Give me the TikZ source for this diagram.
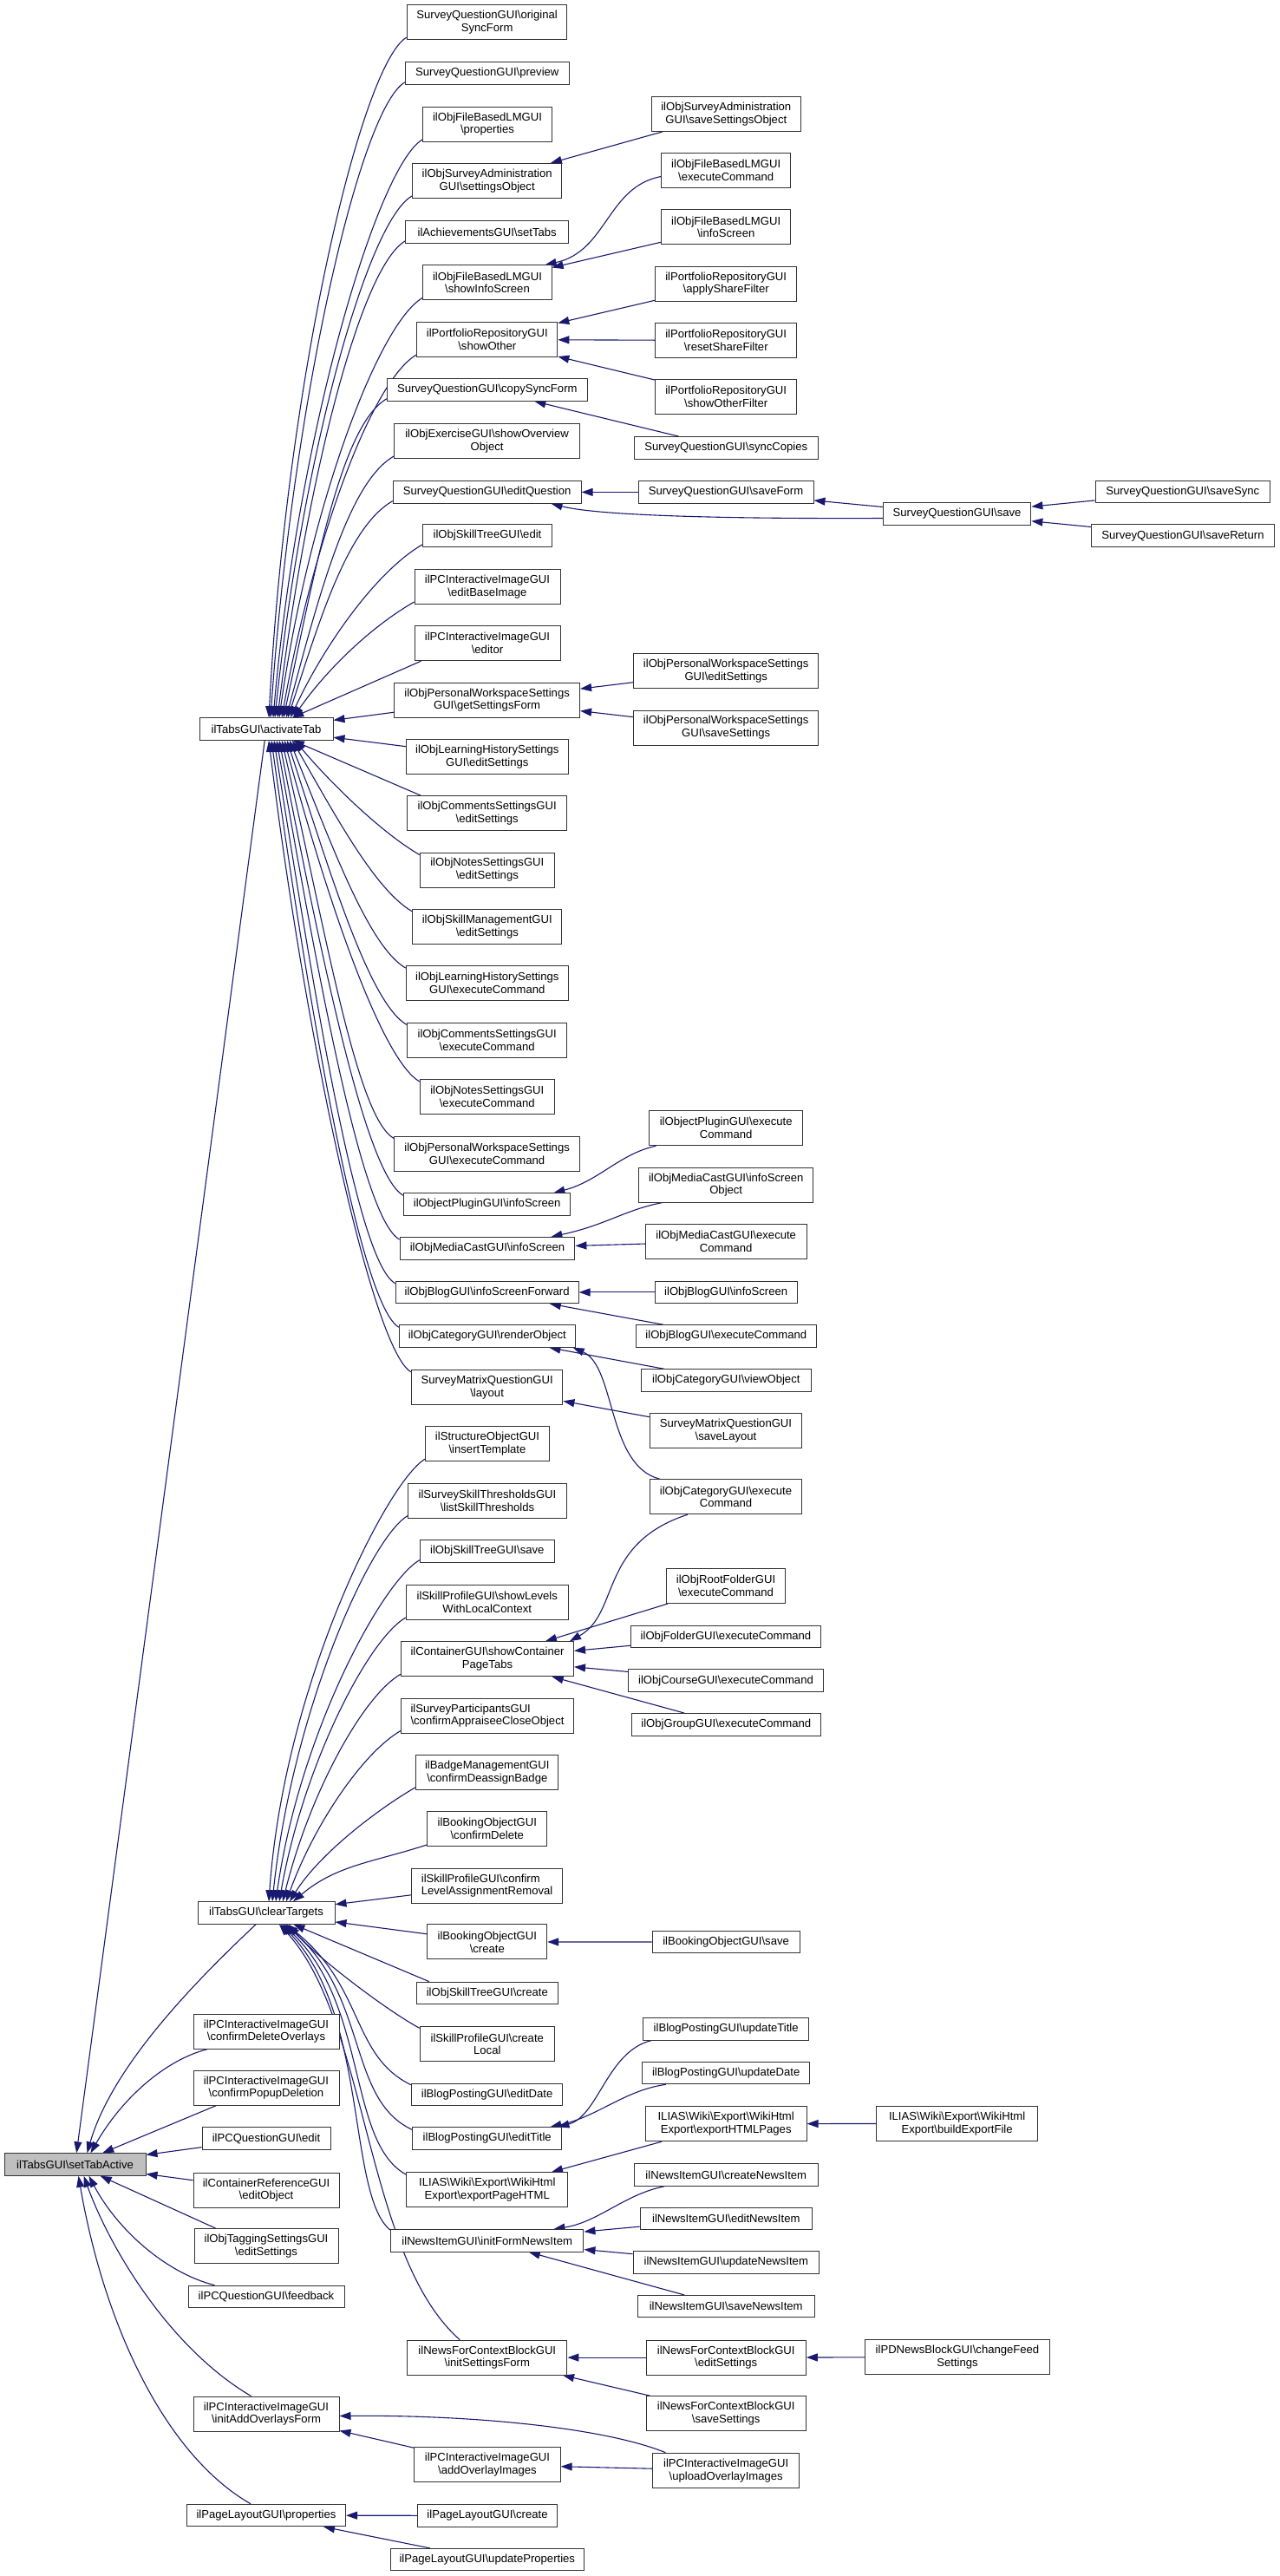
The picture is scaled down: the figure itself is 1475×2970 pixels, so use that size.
\documentclass[tikz,border=0pt]{standalone}
\usepackage{fontspec}
\setmainfont{Liberation Sans}
\usetikzlibrary{arrows.meta,backgrounds}
\definecolor{edgeblue}{HTML}{191970}
\newcommand{\bsl}{\textbackslash}
\tikzset{
  box/.style={draw=black!80, line width=1pt, fill=white, inner sep=0pt, align=center,
    font=\fontsize{13.1pt}{14.8pt}\selectfont, text=black},
  rootbox/.style={box, fill=black!25},
  bw/.style={minimum width=#1},
  h1/.style={minimum height=25.5pt},
  h2/.style={minimum height=40pt},
  edge/.style={draw=edgeblue, line width=1.1pt, {Triangle[length=13pt,width=9pt]}-}
}
\begin{document}
\begin{tikzpicture}[x=1pt,y=1pt]
\useasboundingbox (0,0) rectangle (1475,-2970);
% ---- column 0 / 1
\node[rootbox, bw=163pt, h1] (root) at (86.5,-2495.5) {ilTabsGUI\bsl setTabActive};
\node[box, bw=154pt, h1] (act) at (307,-840.5) {ilTabsGUI\bsl activateTab};
\node[box, bw=158pt, h1] (ct) at (307,-2205.5) {ilTabsGUI\bsl clearTargets};
\node[box, bw=168pt, h2] (cdo) at (307,-2342) {ilPCInteractiveImageGUI\\\bsl confirmDeleteOverlays};
\node[box, bw=168pt, h2] (cpd) at (307,-2407) {ilPCInteractiveImageGUI\\\bsl confirmPopupDeletion};
\node[box, bw=148pt, h1] (pqe) at (307,-2465.5) {ilPCQuestionGUI\bsl edit};
\node[box, bw=168pt, h2] (creo) at (307,-2525) {ilContainerReferenceGUI\\\bsl editObject};
\node[box, bw=166pt, h2] (tag) at (307,-2589.5) {ilObjTaggingSettingsGUI\\\bsl editSettings};
\node[box, bw=180pt, h1] (pqf) at (307,-2648) {ilPCQuestionGUI\bsl feedback};
\node[box, bw=168pt, h2] (iao) at (307,-2783) {ilPCInteractiveImageGUI\\\bsl initAddOverlaysForm};
\node[box, bw=183pt, h1] (plp) at (307,-2900) {ilPageLayoutGUI\bsl properties};
% ---- column 2
\node[box, bw=184.6pt, h2] (osf) at (561.6,-25.7) {SurveyQuestionGUI\bsl original\\SyncForm};
\node[box, bw=188.6pt, h1] (prv) at (561.8,-84.5) {SurveyQuestionGUI\bsl preview};
\node[box, bw=148.2pt, h2] (fprop) at (562,-143.2) {ilObjFileBasedLMGUI\\\bsl properties};
\node[box, bw=172.5pt, h2] (sobj) at (561.7,-208.5) {ilObjSurveyAdministration\\GUI\bsl settingsObject};
\node[box, bw=187.5pt, h1] (stabs) at (561.7,-267.5) {ilAchievementsGUI\bsl setTabs};
\node[box, bw=148.2pt, h2] (sis) at (562,-325.8) {ilObjFileBasedLMGUI\\\bsl showInfoScreen};
\node[box, bw=162pt, h2] (sot) at (561.8,-391.5) {ilPortfolioRepositoryGUI\\\bsl showOther};
\node[box, bw=230.7pt, h1] (csf) at (561.8,-449.5) {SurveyQuestionGUI\bsl copySyncForm};
\node[box, bw=214pt, h2] (sov) at (561.6,-508.5) {ilObjExerciseGUI\bsl showOverview\\Object};
\node[box, bw=216.8pt, h1] (eq) at (561.6,-567.4) {SurveyQuestionGUI\bsl editQuestion};
\node[box, bw=148.5pt, h1] (ste) at (562,-617.5) {ilObjSkillTreeGUI\bsl edit};
\node[box, bw=168pt, h2] (ebi) at (562,-676.5) {ilPCInteractiveImageGUI\\\bsl editBaseImage};
\node[box, bw=168pt, h2] (edr) at (562,-741.7) {ilPCInteractiveImageGUI\\\bsl editor};
\node[box, bw=214pt, h2] (gsf) at (561.6,-807.2) {ilObjPersonalWorkspaceSettings\\GUI\bsl getSettingsForm};
\node[box, bw=187pt, h2] (lhes) at (561.8,-872.4) {ilObjLearningHistorySettings\\GUI\bsl editSettings};
\node[box, bw=184.3pt, h2] (ces) at (561.7,-937.6) {ilObjCommentsSettingsGUI\\\bsl editSettings};
\node[box, bw=155pt, h2] (nes) at (561.8,-1003) {ilObjNotesSettingsGUI\\\bsl editSettings};
\node[box, bw=172.2pt, h2] (smes) at (561.8,-1068.3) {ilObjSkillManagementGUI\\\bsl editSettings};
\node[box, bw=187pt, h2] (lhec) at (561.8,-1133.6) {ilObjLearningHistorySettings\\GUI\bsl executeCommand};
\node[box, bw=184.3pt, h2] (cec) at (561.7,-1199) {ilObjCommentsSettingsGUI\\\bsl executeCommand};
\node[box, bw=155pt, h2] (nec) at (561.8,-1264.5) {ilObjNotesSettingsGUI\\\bsl executeCommand};
\node[box, bw=214pt, h2] (pwec) at (561.6,-1330) {ilObjPersonalWorkspaceSettings\\GUI\bsl executeCommand};
\node[box, bw=192.5pt, h1] (opis) at (561.7,-1388.5) {ilObjectPluginGUI\bsl infoScreen};
\node[box, bw=201.8pt, h1] (mcis) at (562,-1439.3) {ilObjMediaCastGUI\bsl infoScreen};
\node[box, bw=211pt, h1] (bisf) at (561.6,-1489.9) {ilObjBlogGUI\bsl infoScreenForward};
\node[box, bw=202.8pt, h1] (cro) at (561.8,-1540.5) {ilObjCategoryGUI\bsl renderObject};
\node[box, bw=174.6pt, h2] (sml) at (561.6,-1599.2) {SurveyMatrixQuestionGUI\\\bsl layout};
\node[box, bw=142.5pt, h2] (sit) at (562,-1664.6) {ilStructureObjectGUI\\\bsl insertTemplate};
\node[box, bw=182.5pt, h2] (lst) at (562,-1730) {ilSurveySkillThresholdsGUI\\\bsl listSkillThresholds};
\node[box, bw=155pt, h1] (sts) at (561.8,-1788.4) {ilObjSkillTreeGUI\bsl save};
\node[box, bw=187pt, h2] (slw) at (561.8,-1847.5) {ilSkillProfileGUI\bsl showLevels\\WithLocalContext};
\node[box, bw=199pt, h2] (scp) at (562,-1912.7) {ilContainerGUI\bsl showContainer\\PageTabs};
\node[box, bw=199pt, h2, align=left] (cac) at (562,-1978) {ilSurveyParticipantsGUI\\\bsl confirmAppraiseeCloseObject};
\node[box, bw=164.3pt, h2] (cdb) at (561.8,-2043.2) {ilBadgeManagementGUI\\\bsl confirmDeassignBadge};
\node[box, bw=137.8pt, h2] (bcd) at (561.8,-2108.4) {ilBookingObjectGUI\\\bsl confirmDelete};
\node[box, bw=174.6pt, h2, align=left] (clar) at (561.6,-2174) {ilSkillProfileGUI\bsl confirm\\LevelAssignmentRemoval};
\node[box, bw=137.8pt, h2] (bcr) at (561.8,-2238.9) {ilBookingObjectGUI\\\bsl create};
\node[box, bw=162.8pt, h1] (stc) at (561.8,-2297.9) {ilObjSkillTreeGUI\bsl create};
\node[box, bw=155pt, h2] (scl) at (561.8,-2356.8) {ilSkillProfileGUI\bsl create\\Local};
\node[box, bw=174.6pt, h1] (bed) at (561.6,-2414.9) {ilBlogPostingGUI\bsl editDate};
\node[box, bw=172.5pt, h1] (bet) at (561.7,-2465.5) {ilBlogPostingGUI\bsl editTitle};
\node[box, bw=185.7pt, h2] (eph) at (561.8,-2524.7) {ILIAS\bsl Wiki\bsl Export\bsl WikiHtml\\Export\bsl exportPageHTML};
\node[box, bw=222.5pt, h1] (ifn) at (561.7,-2583.3) {ilNewsItemGUI\bsl initFormNewsItem};
\node[box, bw=184.3pt, h2] (isf) at (561.8,-2718.1) {ilNewsForContextBlockGUI\\\bsl initSettingsForm};
\node[box, bw=168.2pt, h2] (aoi) at (562,-2841.7) {ilPCInteractiveImageGUI\\\bsl addOverlayImages};
\node[box, bw=161pt, h1] (plc) at (562,-2900.4) {ilPageLayoutGUI\bsl create};
\node[box, bw=222.8pt, h1] (plu) at (561.8,-2951.1) {ilPageLayoutGUI\bsl updateProperties};
% ---- column 3
\node[box, bw=171.8pt, h2] (sso) at (837.3,-131.3) {ilObjSurveyAdministration\\GUI\bsl saveSettingsObject};
\node[box, bw=148.5pt, h2] (fec) at (837.2,-196.5) {ilObjFileBasedLMGUI\\\bsl executeCommand};
\node[box, bw=148.5pt, h2] (fis) at (837.2,-261.8) {ilObjFileBasedLMGUI\\\bsl infoScreen};
\node[box, bw=163pt, h2] (asf) at (837.2,-327.2) {ilPortfolioRepositoryGUI\\\bsl applyShareFilter};
\node[box, bw=163pt, h2] (rsf) at (837.2,-392.5) {ilPortfolioRepositoryGUI\\\bsl resetShareFilter};
\node[box, bw=163pt, h2] (sof) at (837.2,-457.7) {ilPortfolioRepositoryGUI\\\bsl showOtherFilter};
\node[box, bw=211.8pt, h1] (syc) at (837.3,-516.4) {SurveyQuestionGUI\bsl syncCopies};
\node[box, bw=202pt, h1] (sfm) at (837,-567.4) {SurveyQuestionGUI\bsl saveForm};
\node[box, bw=213.5pt, h2] (pwe) at (837.2,-773.8) {ilObjPersonalWorkspaceSettings\\GUI\bsl editSettings};
\node[box, bw=213.5pt, h2] (pws) at (837.2,-839) {ilObjPersonalWorkspaceSettings\\GUI\bsl saveSettings};
\node[box, bw=176.5pt, h2] (opec) at (837.2,-1300.7) {ilObjectPluginGUI\bsl execute\\Command};
\node[box, bw=201.5pt, h2] (mciso) at (837.2,-1366) {ilObjMediaCastGUI\bsl infoScreen\\Object};
\node[box, bw=185.7pt, h2] (mcec) at (837.2,-1431.3) {ilObjMediaCastGUI\bsl execute\\Command};
\node[box, bw=164.3pt, h1] (bis) at (837.2,-1489.9) {ilObjBlogGUI\bsl infoScreen};
\node[box, bw=208.2pt, h1] (bec) at (837.3,-1540.5) {ilObjBlogGUI\bsl executeCommand};
\node[box, bw=195.4pt, h1] (cvo) at (837.3,-1591.5) {ilObjCategoryGUI\bsl viewObject};
\node[box, bw=175.3pt, h2] (smsl) at (837,-1649.8) {SurveyMatrixQuestionGUI\\\bsl saveLayout};
\node[box, bw=175.3pt, h2] (cec2) at (837,-1725.7) {ilObjCategoryGUI\bsl execute\\Command};
\node[box, bw=136.1pt, h2] (rfec) at (837,-1828.5) {ilObjRootFolderGUI\\\bsl executeCommand};
\node[box, bw=218.9pt, h1] (fdec) at (837,-1887) {ilObjFolderGUI\bsl executeCommand};
\node[box, bw=224.7pt, h1] (crec) at (837,-1937.7) {ilObjCourseGUI\bsl executeCommand};
\node[box, bw=218.2pt, h1] (grec) at (837.3,-1988.3) {ilObjGroupGUI\bsl executeCommand};
\node[box, bw=170pt, h1] (bsv) at (837.1,-2239) {ilBookingObjectGUI\bsl save};
\node[box, bw=191.5pt, h1] (but) at (837.2,-2339.4) {ilBlogPostingGUI\bsl updateTitle};
\node[box, bw=193.5pt, h1] (bud) at (837.2,-2390) {ilBlogPostingGUI\bsl updateDate};
\node[box, bw=185.7pt, h2] (ehp) at (837.2,-2448.7) {ILIAS\bsl Wiki\bsl Export\bsl WikiHtml\\Export\bsl exportHTMLPages};
\node[box, bw=211.8pt, h1] (cni) at (837.3,-2507.5) {ilNewsItemGUI\bsl createNewsItem};
\node[box, bw=198.2pt, h1] (eni) at (837.3,-2558) {ilNewsItemGUI\bsl editNewsItem};
\node[box, bw=214.6pt, h1] (uni) at (837.3,-2608.5) {ilNewsItemGUI\bsl updateNewsItem};
\node[box, bw=204.3pt, h1] (sni) at (837.2,-2659.2) {ilNewsItemGUI\bsl saveNewsItem};
\node[box, bw=184.3pt, h2] (nfe) at (837.2,-2718.1) {ilNewsForContextBlockGUI\\\bsl editSettings};
\node[box, bw=184.3pt, h2] (nfs) at (837.2,-2782.8) {ilNewsForContextBlockGUI\\\bsl saveSettings};
\node[box, bw=168.5pt, h2] (uoi) at (837.2,-2848.2) {ilPCInteractiveImageGUI\\\bsl uploadOverlayImages};
% ---- column 4 / 5
\node[box, bw=170.5pt, h1] (save) at (1103.6,-592.5) {SurveyQuestionGUI\bsl save};
\node[box, bw=186.3pt, h2] (bef) at (1103.6,-2448.3) {ILIAS\bsl Wiki\bsl Export\bsl WikiHtml\\Export\bsl buildExportFile};
\node[box, bw=213.4pt, h2] (cfs) at (1104,-2717.7) {ilPDNewsBlockGUI\bsl changeFeed\\Settings};
\node[box, bw=201.6pt, h1] (ssy) at (1363.8,-567.1) {SurveyQuestionGUI\bsl saveSync};
\node[box, bw=211pt, h1] (sret) at (1364,-617.7) {SurveyQuestionGUI\bsl saveReturn};

\begin{scope}[on background layer]
% ---- root callers
\draw[edge] (root) -- (act);
\draw[edge] ([xshift=14pt]root.north) .. controls (130,-2380) and (230,-2280) .. ([xshift=-12pt]ct.south);
\draw[edge] ([xshift=18pt]root.north) .. controls (140,-2420) and (190,-2375) .. ([xshift=17pt]cdo.south west);
\draw[edge] (root) -- ([xshift=27pt]cpd.south west);
\draw[edge] (root) -- (pqe);
\draw[edge] (root) -- (creo);
\draw[edge] (root) -- ([xshift=25pt]tag.north west);
\draw[edge] ([xshift=16pt]root.south) .. controls (135,-2570) and (190,-2620) .. ([xshift=31pt]pqf.north west);
\draw[edge] ([xshift=10pt]root.south) .. controls (130,-2600) and (200,-2710) .. ([xshift=67pt]iao.north west);
\draw[edge] ([xshift=4pt]root.south) .. controls (120,-2680) and (190,-2830) .. ([xshift=74pt]plp.north west);
% ---- activateTab callers
\foreach \n/\dx/\oa/\od in {osf/3/87/390, prv/5/86/365, fprop/8/85/330, sobj/10/84/300,
   stabs/13/83/275, sis/15/82/240, sot/18/80/205, csf/20/78/180, sov/23/75/150,
   eq/25/72/120, ste/28/65/95, ebi/31/55/65}
  \draw[edge] ([xshift=\dx pt]act.north) to[out=\oa, in=210, out distance=\od pt, in distance=60pt] ([yshift=3pt]\n.south west);
\draw[edge] (act) -- ([xshift=8pt]edr.south west);
\draw[edge] (act) -- (gsf);
\draw[edge] (act) -- (lhes);
\draw[edge] (act) -- ([xshift=16pt]ces.north west);
\foreach \n/\dx/\oa/\od in {nes/33/-50/65, smes/30/-60/95, lhec/27/-68/125, cec/24/-72/160,
   nec/21/-75/195, pwec/18/-77/225, opis/15/-79/260, mcis/12/-80/285, bisf/9/-81/310,
   cro/6/-82/335, sml/3/-83/360}
  \draw[edge] ([xshift=\dx pt]act.south) to[out=\oa, in=150, out distance=\od pt, in distance=50pt] ([yshift=-3pt]\n.north west);
% ---- clearTargets callers
\foreach \n/\dx/\oa/\od in {sit/3/86/250, lst/7/84/220, sts/11/82/195, slw/15/80/160,
   scp/19/76/130, cac/23/70/95, cdb/27/58/65}
  \draw[edge] ([xshift=\dx pt]ct.north) to[out=\oa, in=210, out distance=\od pt, in distance=50pt] ([yshift=3pt]\n.south west);
\draw[edge] ([xshift=31pt]ct.north) to[out=40, in=198] ([yshift=2pt]bcd.south west);
\draw[edge] (ct) -- (clar);
\draw[edge] (ct) -- (bcr);
\draw[edge] (ct) -- ([xshift=15pt]stc.north west);
\draw[edge] ([xshift=26pt]ct.south) to[out=-50, in=152, out distance=50pt, in distance=40pt] ([yshift=-2pt]scl.north west);
\draw[edge] ([xshift=23pt]ct.south) .. controls (420,-2290) and (405,-2370) .. ([yshift=-2pt]bed.north west);
\draw[edge] ([xshift=21pt]ct.south) .. controls (425,-2300) and (400,-2420) .. ([yshift=-3pt]bet.north west);
\draw[edge] ([xshift=19pt]ct.south) .. controls (425,-2310) and (400,-2470) .. ([yshift=-3pt]eph.north west);
\draw[edge] ([xshift=17pt]ct.south) .. controls (425,-2320) and (400,-2530) .. ([yshift=-1pt]ifn.north west);
\draw[edge] ([xshift=15pt]ct.south) .. controls (425,-2330) and (420,-2600) .. ([xshift=61pt]isf.north west);
% ---- other column 1 callers
\draw[edge] ([yshift=-2.5pt]iao.east) .. controls (550,-2784) and (700,-2800) .. ([xshift=15pt]uoi.north west);
\draw[edge] (iao) -- (aoi);
\draw[edge] (plp) -- (plc);
\draw[edge] (plp) -- (plu);
% ---- column 2 <- column 3
\draw[edge] (sobj) -- (sso);
\draw[edge] ([xshift=-8pt]sis.north east) .. controls (700,-290) and (700,-215) .. ([yshift=-7pt]fec.west);
\draw[edge] (sis) -- (fis);
\draw[edge] (sot) -- (asf);
\draw[edge] (sot) -- (rsf);
\draw[edge] (sot) -- (sof);
\draw[edge] (csf) -- (syc);
\draw[edge] (eq) -- (sfm);
\draw[edge] ([xshift=-35pt]eq.south east) .. controls (700,-597) and (900,-598) .. ([yshift=-5pt]save.west);
\draw[edge] (sfm) -- (save);
\draw[edge] (save) -- (ssy);
\draw[edge] (save) -- (sret);
\draw[edge] (gsf) -- (pwe);
\draw[edge] (gsf) -- (pws);
\draw[edge] ([xshift=-20pt]opis.north east) .. controls (690,-1362) and (715,-1330) .. ([xshift=8pt]opec.south west);
\draw[edge] ([xshift=-28pt]mcis.north east) .. controls (700,-1412) and (720,-1395) .. ([xshift=28pt]mciso.south west);
\draw[edge] (mcis) -- (mcec);
\draw[edge] (bisf) -- (bis);
\draw[edge] (bisf) -- (bec);
\draw[edge] (cro) -- (cvo);
\draw[edge] ([xshift=-3pt]cro.south east) .. controls (710,-1575) and (700,-1690) .. ([xshift=12pt]cec2.north west);
\draw[edge] (sml) -- (smsl);
\draw[edge] ([xshift=-5pt]scp.north east) .. controls (715,-1860) and (690,-1780) .. ([xshift=44pt]cec2.south west);
\draw[edge] (scp) -- (rfec);
\draw[edge] (scp) -- (fdec);
\draw[edge] (scp) -- (crec);
\draw[edge] (scp) -- (grec);
\draw[edge] (bcr) -- (bsv);
\draw[edge] ([xshift=-5pt]bet.north east) .. controls (690,-2440) and (700,-2365) .. ([xshift=10pt]but.south west);
\draw[edge] ([xshift=-14pt]bet.north east) .. controls (690,-2440) and (720,-2410) .. ([xshift=28pt]bud.south west);
\draw[edge] (eph) -- (ehp);
\draw[edge] (ehp) -- (bef);
\draw[edge] ([xshift=-35pt]ifn.north east) .. controls (690,-2562) and (720,-2530) .. ([xshift=35pt]cni.south west);
\draw[edge] (ifn) -- (eni);
\draw[edge] (ifn) -- (uni);
\draw[edge] (ifn) -- (sni);
\draw[edge] (isf) -- (nfe);
\draw[edge] (isf) -- (nfs);
\draw[edge] (nfe) -- (cfs);
\draw[edge] (aoi) -- (uoi);
\end{scope}
\end{tikzpicture}
\end{document}
